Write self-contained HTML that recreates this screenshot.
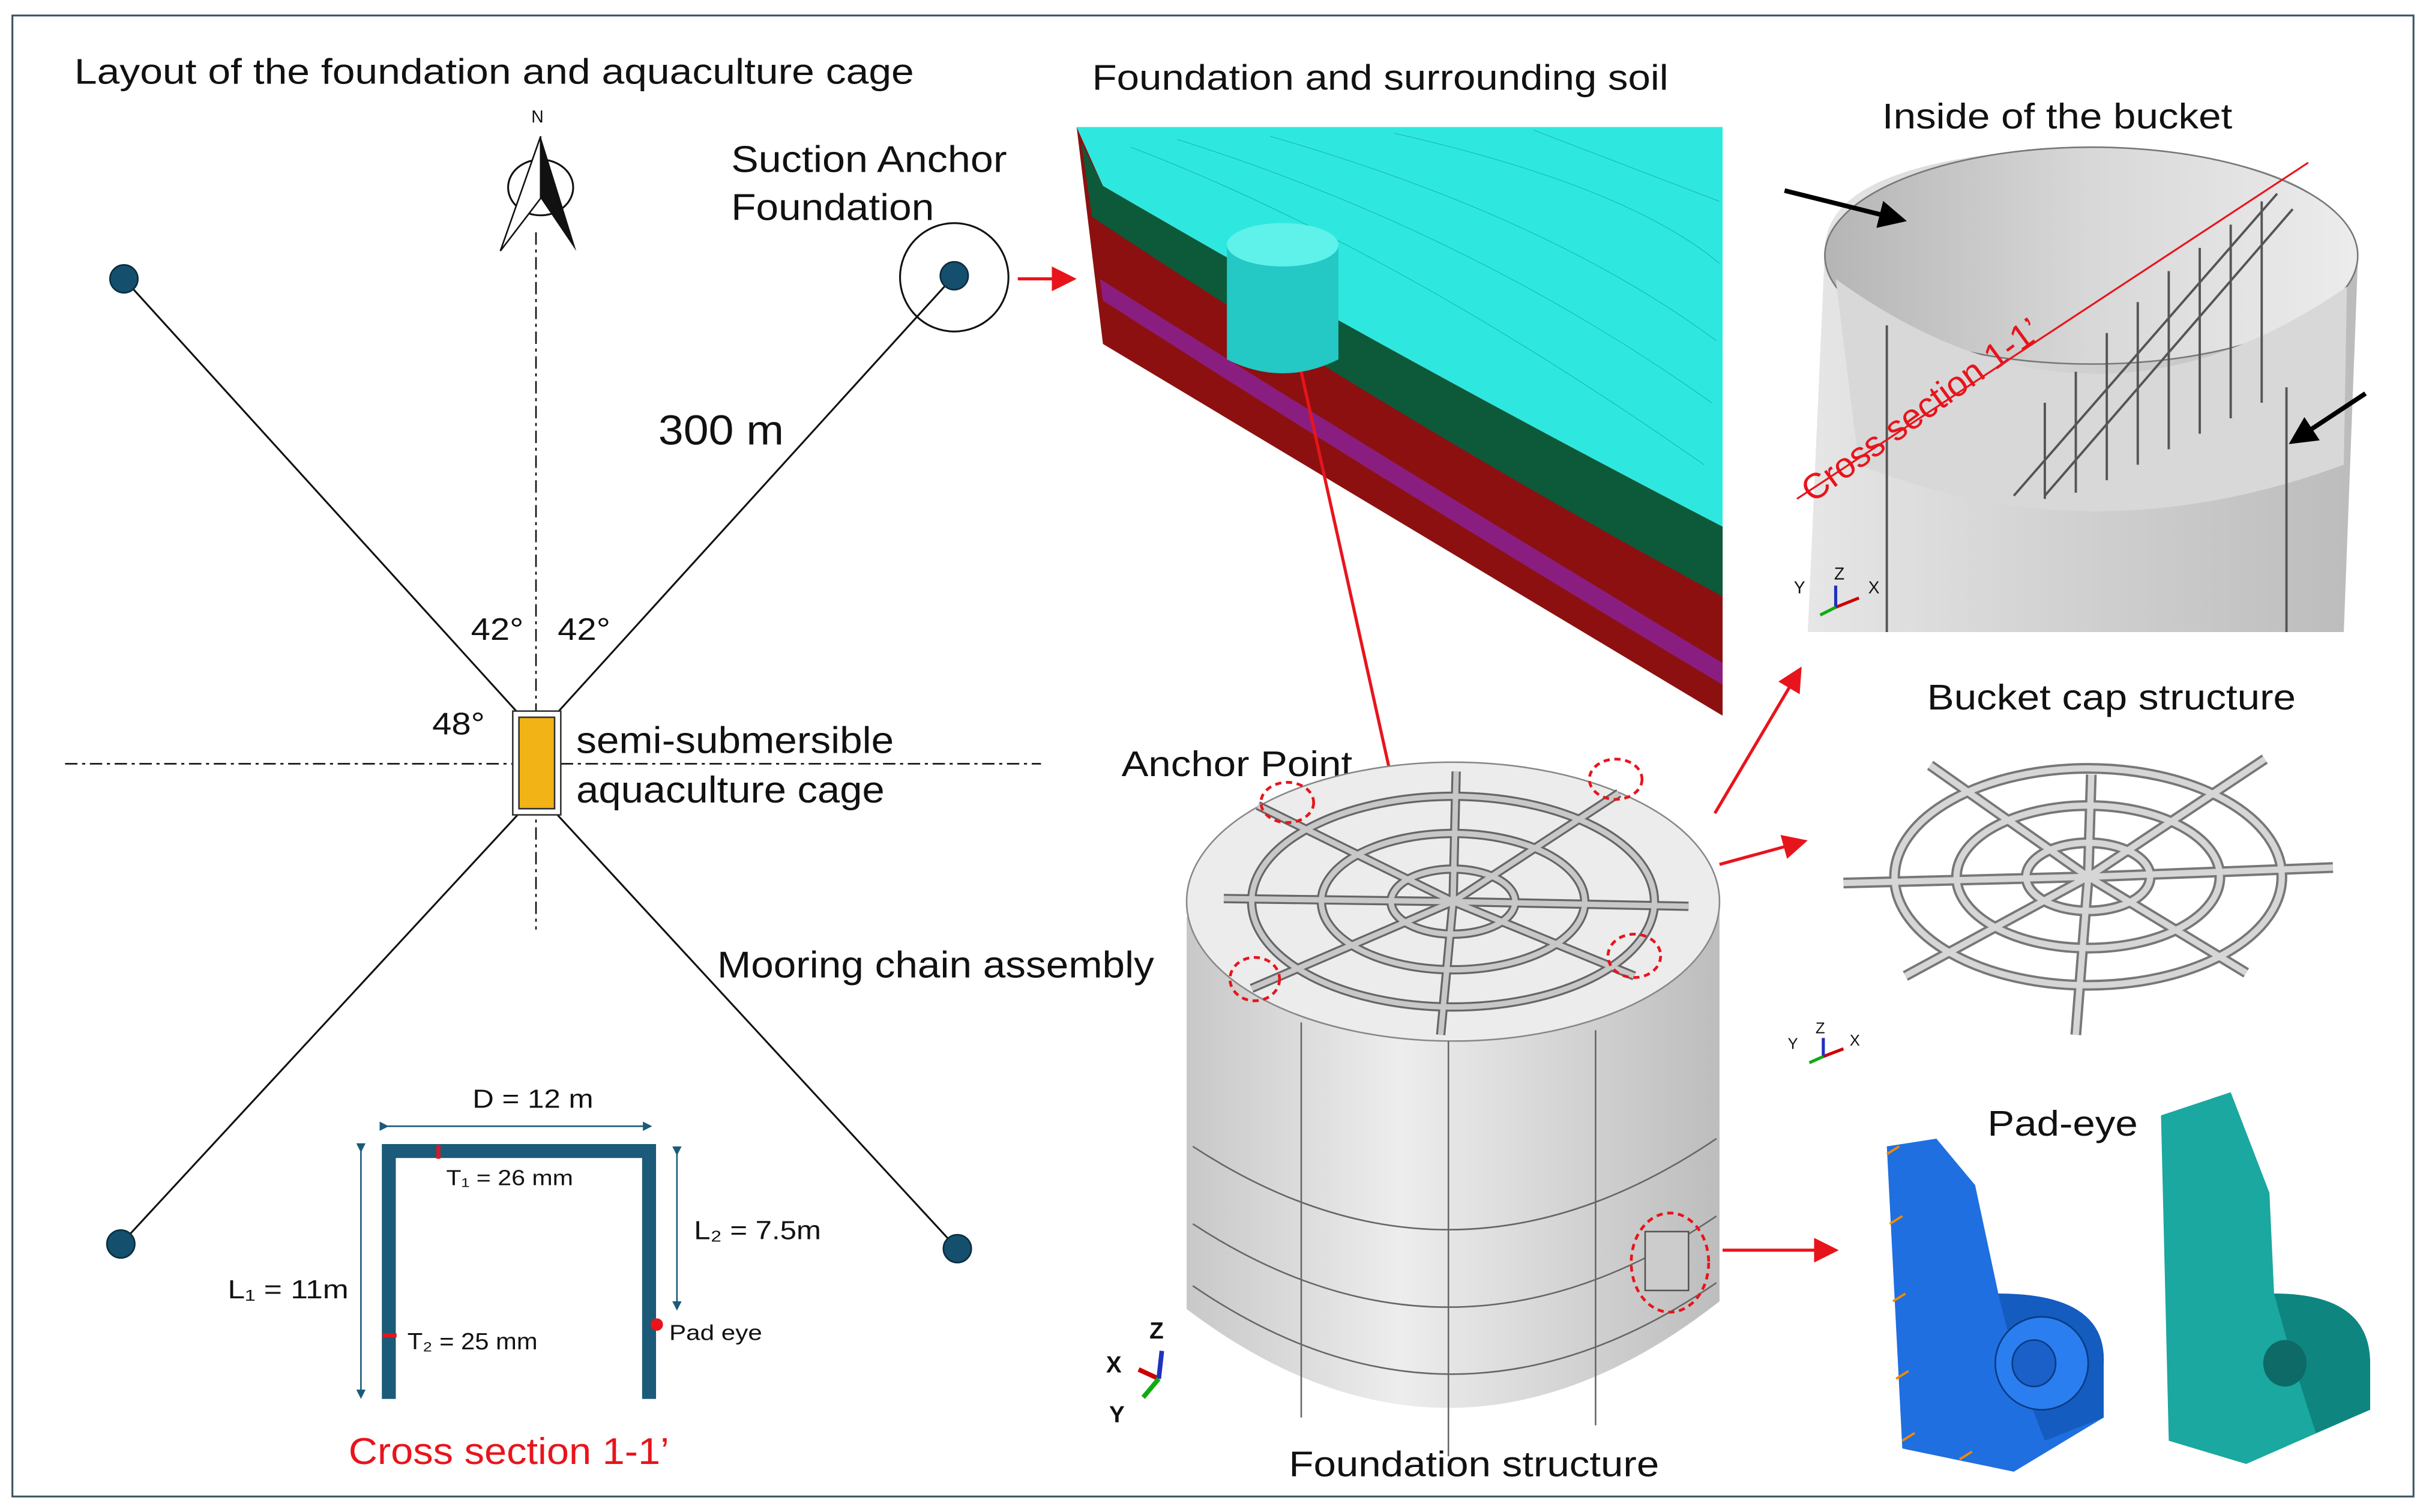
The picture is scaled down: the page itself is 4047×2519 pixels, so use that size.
<!DOCTYPE html>
<html><head><meta charset="utf-8"><style>
html,body{margin:0;padding:0;background:#fff}
svg{display:block}
text{font-family:"Liberation Sans",Arial,sans-serif;fill:#111}
</style></head><body>
<svg width="4047" height="2519" viewBox="0 0 1568 976" preserveAspectRatio="none" xmlns="http://www.w3.org/2000/svg">
<defs>
<marker id="ar" markerWidth="8" markerHeight="8" refX="7" refY="4" orient="auto"><path d="M0,0 L8,4 L0,8 z" fill="#e8141c"/></marker>
<marker id="ab" markerWidth="6" markerHeight="6" refX="5" refY="3" orient="auto"><path d="M0,0 L6,3 L0,6 z" fill="#1b5a78"/></marker>
<marker id="ak" markerWidth="6" markerHeight="6" refX="5" refY="3" orient="auto"><path d="M0,0 L6,3 L0,6 z" fill="#000"/></marker>
<linearGradient id="cyl" x1="0" x2="1"><stop offset="0" stop-color="#c8c8c8"/><stop offset="0.4" stop-color="#ededed"/><stop offset="1" stop-color="#bdbdbd"/></linearGradient>
<linearGradient id="ins" x1="0" x2="1"><stop offset="0" stop-color="#e6e6e6"/><stop offset="0.5" stop-color="#d0d0d0"/><stop offset="1" stop-color="#bcbcbc"/></linearGradient>
<linearGradient id="inn" x1="0" x2="1"><stop offset="0" stop-color="#b5b5b5"/><stop offset="0.5" stop-color="#d8d8d8"/><stop offset="1" stop-color="#ececec"/></linearGradient>
</defs>
<rect x="8" y="10" width="1550" height="956" fill="#fff" stroke="#3b5560" stroke-width="1.2"/>

<!-- Left layout -->
<text x="48" y="54" font-size="23" textLength="542" lengthAdjust="spacingAndGlyphs">Layout of the foundation and aquaculture cage</text>
<text x="343" y="79" font-size="11">N</text>
<ellipse cx="349" cy="121" rx="21" ry="18" fill="none" stroke="#111" stroke-width="1.2"/>
<path d="M349,88 L323,162 L349,128 Z" fill="#fff" stroke="#111"/>
<path d="M349,88 L372,162 L349,128 Z" fill="#111"/>
<line x1="346" y1="150" x2="346" y2="600" stroke="#111" stroke-width="1" stroke-dasharray="8,3,2,3"/>
<line x1="42" y1="493" x2="672" y2="493" stroke="#111" stroke-width="1" stroke-dasharray="8,3,2,3"/>
<g stroke="#111" stroke-width="1.2">
<line x1="80" y1="180" x2="336" y2="462"/>
<line x1="616" y1="178" x2="358" y2="462"/>
<line x1="78" y1="803" x2="336" y2="524"/>
<line x1="618" y1="806" x2="358" y2="524"/>
</g>
<rect x="331" y="459" width="31" height="67" fill="#fff" stroke="#333"/>
<rect x="335" y="463" width="23" height="59" fill="#f2b316" stroke="#333"/>
<g fill="#14506e" stroke="#0b2d3e"><circle cx="80" cy="180" r="9"/><circle cx="616" cy="178" r="9"/><circle cx="78" cy="803" r="9"/><circle cx="618" cy="806" r="9"/></g>
<circle cx="616" cy="179" r="35" fill="none" stroke="#111" stroke-width="1.2"/>
<text x="472" y="111" font-size="24" textLength="178" lengthAdjust="spacingAndGlyphs">Suction Anchor</text>
<text x="472" y="142" font-size="24" textLength="131" lengthAdjust="spacingAndGlyphs">Foundation</text>
<text x="425" y="287" font-size="27" textLength="81" lengthAdjust="spacingAndGlyphs">300 m</text>
<text x="304" y="413" font-size="20" textLength="34" lengthAdjust="spacingAndGlyphs">42°</text>
<text x="360" y="413" font-size="20" textLength="34" lengthAdjust="spacingAndGlyphs">42°</text>
<text x="279" y="474" font-size="20" textLength="34" lengthAdjust="spacingAndGlyphs">48°</text>
<text x="372" y="486" font-size="24" textLength="205" lengthAdjust="spacingAndGlyphs">semi-submersible</text>
<text x="372" y="518" font-size="24" textLength="199" lengthAdjust="spacingAndGlyphs">aquaculture cage</text>
<text x="463" y="631" font-size="24" textLength="282" lengthAdjust="spacingAndGlyphs">Mooring chain assembly</text>

<!-- Cross section -->
<path d="M251,903 L251,743 L419,743 L419,903" fill="none" stroke="#1b5a78" stroke-width="9"/>
<line x1="283" y1="739" x2="283" y2="748" stroke="#e8141c" stroke-width="2.5"/>
<line x1="247" y1="862" x2="256" y2="862" stroke="#e8141c" stroke-width="2.5"/>
<circle cx="424" cy="855" r="4" fill="#e8141c"/>
<line x1="250" y1="727" x2="420" y2="727" stroke="#1b5a78" marker-start="url(#ab)" marker-end="url(#ab)"/>
<line x1="233" y1="743" x2="233" y2="902" stroke="#1b5a78" marker-start="url(#ab)" marker-end="url(#ab)"/>
<line x1="437" y1="745" x2="437" y2="845" stroke="#1b5a78" marker-start="url(#ab)" marker-end="url(#ab)"/>
<text x="305" y="715" font-size="17" textLength="78" lengthAdjust="spacingAndGlyphs">D = 12 m</text>
<text x="288" y="765" font-size="14" textLength="82" lengthAdjust="spacingAndGlyphs">T₁ = 26 mm</text>
<text x="147" y="838" font-size="17" textLength="78" lengthAdjust="spacingAndGlyphs">L₁ = 11m</text>
<text x="448" y="800" font-size="17" textLength="82" lengthAdjust="spacingAndGlyphs">L₂ = 7.5m</text>
<text x="263" y="871" font-size="15" textLength="84" lengthAdjust="spacingAndGlyphs">T₂ = 25 mm</text>
<text x="432" y="865" font-size="14" textLength="60" lengthAdjust="spacingAndGlyphs">Pad eye</text>
<text x="225" y="945" font-size="24" textLength="207" lengthAdjust="spacingAndGlyphs" style="fill:#e8141c">Cross section 1-1’</text>

<!-- Soil model -->
<text x="705" y="58" font-size="23" textLength="372" lengthAdjust="spacingAndGlyphs">Foundation and surrounding soil</text>
<line x1="657" y1="180" x2="693" y2="180" stroke="#e8141c" stroke-width="2" marker-end="url(#ar)"/>
<path d="M695,82 L1112,82 L1112,340 Q900,230 712,120 Z" fill="#2ee8e0"/>
<path d="M695,82 L712,120 Q900,230 1112,340 L1112,462 L712,222 Z" fill="#8c1010"/>
<path d="M698,92 L712,120 Q900,230 1112,340 L1112,385 Q900,270 705,140 Z" fill="#0c5a3a"/>
<path d="M710,180 Q900,300 1112,428 L1112,442 Q900,315 712,194 Z" fill="#8a1e80"/>
<g stroke="#0a8f8f" stroke-width="0.4" fill="none" opacity="0.6">
<path d="M730,95 Q900,160 1100,300"/><path d="M760,90 Q950,150 1105,260"/><path d="M820,88 Q1000,140 1108,220"/><path d="M900,86 Q1050,120 1110,170"/><path d="M990,84 L1110,130"/>
</g>
<path d="M792,158 L792,232 Q828,250 864,232 L864,158 Z" fill="#24c8c4"/>
<ellipse cx="828" cy="158" rx="36" ry="14" fill="#5ff2ea"/>

<!-- Inside of bucket -->
<text x="1215" y="83" font-size="23" textLength="226" lengthAdjust="spacingAndGlyphs">Inside of the bucket</text>
<path d="M1178,160 Q1180,100 1350,95 Q1515,100 1522,170 L1513,408 L1167,408 Z" fill="url(#ins)"/>
<ellipse cx="1350" cy="165" rx="172" ry="70" fill="url(#inn)" stroke="#777"/>
<path d="M1185,180 Q1350,300 1515,185 L1513,300 Q1350,360 1200,300 Z" fill="#d8d8d8"/>
<g stroke="#555" stroke-width="1.5">
<line x1="1300" y1="320" x2="1470" y2="125"/><line x1="1320" y1="320" x2="1480" y2="135"/>
<line x1="1340" y1="318" x2="1340" y2="240"/><line x1="1360" y1="310" x2="1360" y2="215"/><line x1="1380" y1="300" x2="1380" y2="195"/><line x1="1400" y1="290" x2="1400" y2="175"/><line x1="1420" y1="280" x2="1420" y2="160"/><line x1="1440" y1="270" x2="1440" y2="145"/><line x1="1460" y1="260" x2="1460" y2="130"/><line x1="1320" y1="322" x2="1320" y2="260"/>
<line x1="1218" y1="210" x2="1218" y2="408"/><line x1="1476" y1="250" x2="1476" y2="408"/>
</g>
<line x1="1160" y1="322" x2="1490" y2="105" stroke="#e8141c" stroke-width="1.2"/>
<text x="1170" y="325" font-size="23" transform="rotate(-36 1170 325)" style="fill:#e8141c">Cross section 1-1’</text>
<line x1="1152" y1="123" x2="1228" y2="142" stroke="#000" stroke-width="3" marker-end="url(#ak)"/>
<line x1="1527" y1="254" x2="1480" y2="285" stroke="#000" stroke-width="3" marker-end="url(#ak)"/>
<text x="1158" y="383" font-size="11">Y</text><text x="1184" y="374" font-size="11">Z</text><text x="1206" y="383" font-size="11">X</text>
<line x1="1185" y1="392" x2="1200" y2="386" stroke="#c00" stroke-width="2"/><line x1="1185" y1="392" x2="1185" y2="378" stroke="#2030c0" stroke-width="2"/><line x1="1185" y1="392" x2="1175" y2="397" stroke="#1a1" stroke-width="2"/>

<!-- Bucket cap -->
<text x="1244" y="458" font-size="23" textLength="238" lengthAdjust="spacingAndGlyphs">Bucket cap structure</text>
<line x1="1107" y1="525" x2="1162" y2="432" stroke="#e8141c" stroke-width="2" marker-end="url(#ar)"/>
<line x1="1110" y1="558" x2="1165" y2="543" stroke="#e8141c" stroke-width="2" marker-end="url(#ar)"/>
<g stroke="#777" stroke-width="7" stroke-linecap="butt" fill="none">
<path d="M1348,566 L1246,494 M1348,566 L1462,490 M1348,566 L1230,630 M1348,566 L1450,628 M1348,566 L1190,570 M1348,566 L1506,560 M1348,566 L1340,668 M1348,566 L1350,500"/>
<ellipse cx="1348" cy="566" rx="40" ry="22"/><ellipse cx="1348" cy="566" rx="85" ry="46"/><ellipse cx="1348" cy="566" rx="125" ry="70"/>
</g>
<g stroke="#d6d6d6" stroke-width="4" fill="none">
<path d="M1348,566 L1246,494 M1348,566 L1462,490 M1348,566 L1230,630 M1348,566 L1450,628 M1348,566 L1190,570 M1348,566 L1506,560 M1348,566 L1340,668 M1348,566 L1350,500"/>
<ellipse cx="1348" cy="566" rx="40" ry="22"/><ellipse cx="1348" cy="566" rx="85" ry="46"/><ellipse cx="1348" cy="566" rx="125" ry="70"/>
</g>
<text x="1154" y="677" font-size="10">Y</text><text x="1172" y="667" font-size="10">Z</text><text x="1194" y="675" font-size="10">X</text>
<line x1="1177" y1="682" x2="1190" y2="677" stroke="#c00" stroke-width="2"/><line x1="1177" y1="682" x2="1177" y2="670" stroke="#2030c0" stroke-width="2"/><line x1="1177" y1="682" x2="1168" y2="686" stroke="#1a1" stroke-width="2"/>

<!-- Foundation structure -->
<text x="724" y="501" font-size="23" textLength="149" lengthAdjust="spacingAndGlyphs">Anchor Point</text>
<line x1="840" y1="240" x2="901" y2="515" stroke="#e8141c" stroke-width="2" marker-end="url(#ar)"/>
<path d="M766,592 L766,845 Q938,975 1110,840 L1110,580 Z" fill="url(#cyl)"/>
<ellipse cx="938" cy="582" rx="172" ry="90" fill="#ececec" stroke="#888"/>
<g stroke="#666" stroke-width="1" fill="none">
<path d="M770,740 Q938,850 1108,735"/><path d="M770,790 Q938,900 1108,785"/><path d="M770,830 Q938,945 1108,828"/>
<line x1="840" y1="660" x2="840" y2="915"/><line x1="1030" y1="665" x2="1030" y2="920"/><line x1="935" y1="672" x2="935" y2="940"/>
</g>
<g stroke="#666" stroke-width="6" fill="none">
<path d="M938,582 L790,580 M938,582 L1090,585 M938,582 L812,520 M938,582 L1045,512 M938,582 L808,638 M938,582 L1055,630 M938,582 L940,498 M938,582 L930,668"/>
<ellipse cx="938" cy="582" rx="40" ry="21"/><ellipse cx="938" cy="582" rx="85" ry="44"/><ellipse cx="938" cy="582" rx="130" ry="68"/>
</g>
<g stroke="#c8c8c8" stroke-width="3.5" fill="none">
<path d="M938,582 L790,580 M938,582 L1090,585 M938,582 L812,520 M938,582 L1045,512 M938,582 L808,638 M938,582 L1055,630 M938,582 L940,498 M938,582 L930,668"/>
<ellipse cx="938" cy="582" rx="40" ry="21"/><ellipse cx="938" cy="582" rx="85" ry="44"/><ellipse cx="938" cy="582" rx="130" ry="68"/>
</g>
<g stroke="#e8141c" stroke-width="1.8" fill="none" stroke-dasharray="4,3">
<ellipse cx="831" cy="518" rx="17" ry="13"/><ellipse cx="1043" cy="503" rx="17" ry="13"/><ellipse cx="810" cy="632" rx="16" ry="14"/><ellipse cx="1055" cy="617" rx="17" ry="14"/><ellipse cx="1078" cy="815" rx="25" ry="32"/>
</g>
<rect x="1062" y="795" width="28" height="38" fill="#ccc" stroke="#555"/>
<line x1="1112" y1="807" x2="1185" y2="807" stroke="#e8141c" stroke-width="2" marker-end="url(#ar)"/>
<text x="832" y="953" font-size="23" textLength="239" lengthAdjust="spacingAndGlyphs">Foundation structure</text>
<text x="714" y="886" font-size="15" font-weight="bold">X</text><text x="742" y="864" font-size="15" font-weight="bold">Z</text><text x="716" y="918" font-size="15" font-weight="bold">Y</text>
<line x1="748" y1="890" x2="735" y2="884" stroke="#c00" stroke-width="3"/><line x1="748" y1="890" x2="750" y2="872" stroke="#2030c0" stroke-width="3"/><line x1="748" y1="890" x2="738" y2="902" stroke="#1a1" stroke-width="3"/>

<!-- Pad-eye -->
<text x="1283" y="733" font-size="23" textLength="97" lengthAdjust="spacingAndGlyphs">Pad-eye</text>
<path d="M1218,740 L1250,735 L1275,765 L1290,835 Q1360,835 1358,880 L1358,915 L1300,950 L1228,935 Z" fill="#1f6fe0"/>
<path d="M1290,835 Q1360,835 1358,880 L1358,915 L1320,930 Q1300,880 1290,835 Z" fill="#145cc0"/>
<ellipse cx="1318" cy="880" rx="30" ry="30" fill="#2a7ef0" stroke="#0a3a80"/>
<ellipse cx="1313" cy="880" rx="14" ry="15" fill="#1a60c8" stroke="#0a3a80"/>
<g stroke="#f08a00" stroke-width="1.5"><line x1="1218" y1="745" x2="1226" y2="740"/><line x1="1220" y1="790" x2="1228" y2="785"/><line x1="1222" y1="840" x2="1230" y2="835"/><line x1="1224" y1="890" x2="1232" y2="885"/><line x1="1228" y1="930" x2="1236" y2="925"/><line x1="1265" y1="942" x2="1273" y2="937"/></g>
<path d="M1395,720 L1440,705 L1465,770 L1468,835 Q1530,835 1530,880 L1530,910 L1450,945 L1400,930 Z" fill="#1aa8a0"/>
<path d="M1468,835 Q1530,835 1530,880 L1530,910 L1495,925 Q1480,880 1468,835 Z" fill="#0f8580"/>
<ellipse cx="1475" cy="880" rx="14" ry="15" fill="#0d6a66"/>
</svg>
</body></html>
